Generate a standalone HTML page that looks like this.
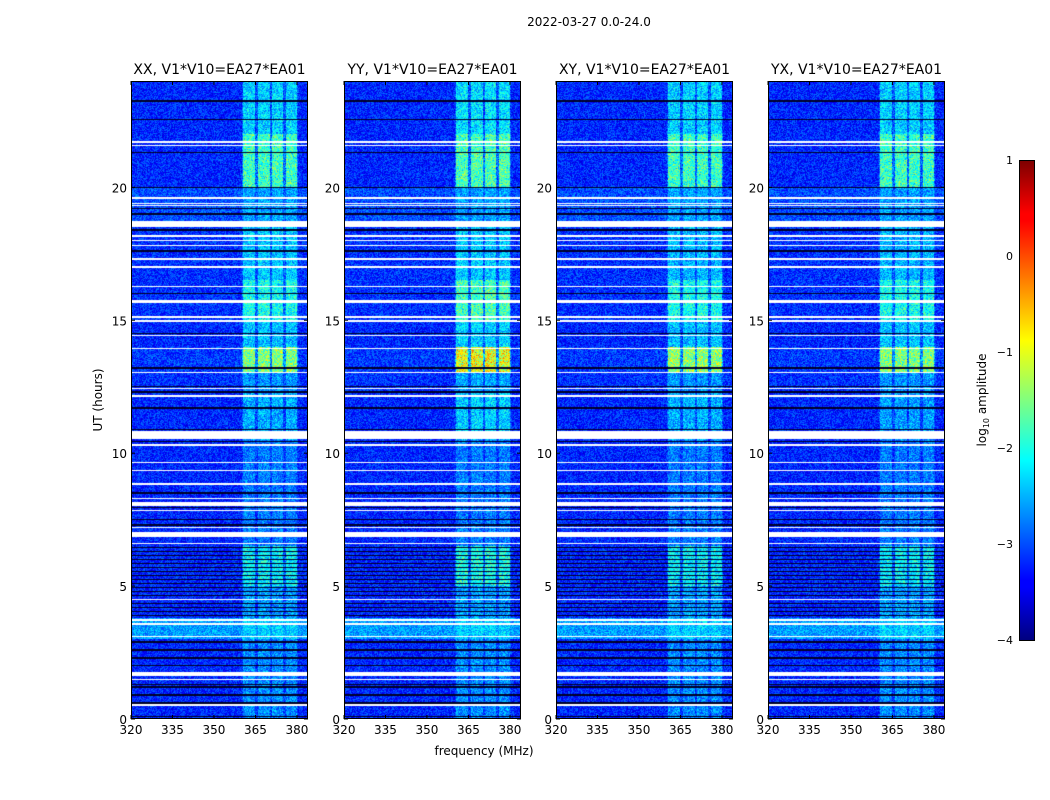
<!DOCTYPE html>
<html><head><meta charset="utf-8">
<style>
body{margin:0;background:#fff;width:1050px;height:800px;overflow:hidden;font-family:"DejaVu Sans","Liberation Sans",sans-serif;}
#root{position:relative;width:1050px;height:800px;}
</style></head><body>
<div id="root">
<svg id="svg" width="1050" height="800" style="position:absolute;left:0;top:0"></svg>
</div>
<script>
// ---- data ----
const panelTitles = ["XX, V1*V10=EA27*EA01","YY, V1*V10=EA27*EA01","XY, V1*V10=EA27*EA01","YX, V1*V10=EA27*EA01"];
const yTicks = [0,5,10,15,20];
const xTicks = [320,335,350,365,380];
const cbTicks = [1,0,-1,-2,-3,-4];
const segEdges = [0,3,3.8,5,6.5,10.5,12.3,13,14,15,16.5,18.5,20,22,24];
const boostXX = [0.6,0.3,0.7,1.2,0.5,0.8,0.6,1.9,0.9,1.3,0.9,0.5,1.6,1.0];
const boostYY = [0.6,0.3,0.7,1.4,0.5,1.0,0.7,2.5,1.0,1.6,0.9,0.5,1.7,1.1];
const boostXY = [0.6,0.3,0.7,1.2,0.5,0.8,0.6,2.0,0.9,1.3,0.8,0.5,1.6,1.0];
const boostYX = [0.6,0.3,0.7,1.2,0.5,0.7,0.6,1.9,0.9,1.3,0.8,0.5,1.6,1.0];
const boosts = [boostXX,boostYY,boostXY,boostYX];
const baseLevel = [-3.2,-2.6,-3.2,-3.2,-3.2,-3.2,-3.15,-3.1,-3.2,-3.15,-3.15,-3.0,-3.2,-3.2];
const bands = [[360.5,365],[366,370.3],[371,375],[376,380]];
const whites = [[21.68,21.76],[21.55,21.6],[19.55,19.62],[19.38,19.42],[19.28,19.32],[18.5,18.75],[18.15,18.2],[17.98,18.03],[17.78,17.82],[17.28,17.33],[16.95,17.05],[16.25,16.3],[15.65,15.75],[15.1,15.15],[14.95,15.0],[14.4,14.44],[13.92,13.97],[13.03,13.07],[12.42,12.47],[12.12,12.17],[10.55,10.85],[10.28,10.33],[9.64,9.68],[9.34,9.38],[8.81,8.86],[8.28,8.32],[8.02,8.15],[7.83,7.87],[7.18,7.22],[6.85,7.02],[6.58,6.62],[4.48,4.52],[3.7,3.78],[3.55,3.6],[3.08,3.13],[1.6,1.78],[1.45,1.5],[0.5,0.55]];
const blacks = [23.25,22.55,21.3,20.0,19.2,19.0,18.4,17.6,16.0,14.5,13.2,12.5,12.3,11.7,10.9,10.45,8.5,7.95,7.5,7.3,6.45,6.3,6.15,6.0,5.85,5.7,5.55,5.4,5.25,5.1,4.95,4.8,4.65,4.35,4.2,4.05,3.9,2.9,2.6,2.3,2.0,1.3,1.2,0.9,0.6,0.1];

const lefts=[131,344,556,768], W=177, TOP=81, H=638, fMin=320, fMax=384, tMax=24;
const xs=(f,l)=>l+(f-fMin)/(fMax-fMin)*W;
const ys=h=>TOP+H-(h/tMax)*H;
const svg=document.getElementById('svg'), root=document.getElementById('root');
const NS="http://www.w3.org/2000/svg";
const FONT='DejaVu Sans, Liberation Sans, sans-serif';
function jet(v){let t=(v+4)/5;t=Math.max(0,Math.min(1,t));
 const r=Math.max(0,Math.min(1,1.5-Math.abs(4*t-3))),g=Math.max(0,Math.min(1,1.5-Math.abs(4*t-2))),b=Math.max(0,Math.min(1,1.5-Math.abs(4*t-1)));
 return [r*255,g*255,b*255];}
function hash(a,b,c){let h=(a*374761393+b*668265263+c*2147483647)|0;h=(h^(h>>>13))*1274126177|0;h^=h>>>16;return ((h>>>0)%10000)/10000;}
function text(x,y,s,anchor,size,name){const t=document.createElementNS(NS,'text');t.setAttribute('x',x);t.setAttribute('y',y);t.setAttribute('text-anchor',anchor||'middle');t.setAttribute('font-size',size||12);t.setAttribute('font-family',FONT);t.textContent=s;
 
 
 svg.appendChild(t);return t;}
function line(x1,y1,x2,y2,name){const l=document.createElementNS(NS,'line');l.setAttribute('x1',x1);l.setAttribute('y1',y1);l.setAttribute('x2',x2);l.setAttribute('y2',y2);l.setAttribute('stroke','#000');l.setAttribute('stroke-width',1);
 
 
 svg.appendChild(l);}

text(589,26,"2022-03-27 0.0-24.0",'middle',12,'figure-title');
for(let p=0;p<4;p++){
 const L=lefts[p];
 const cv=document.createElement('canvas');cv.width=W;cv.height=H;
 cv.style.cssText=`position:absolute;left:${L}px;top:${TOP}px;`;
 
 
 root.insertBefore(cv,svg);
 const ctx=cv.getContext('2d'),img=ctx.createImageData(W,H),d=img.data;
 for(let r=0;r<H;r++){
  const h=(H-r-0.5)/H*tMax; let s=0;while(s<segEdges.length-2&&h>=segEdges[s+1])s++;
  let white=whites.some(w=>h>=w[0]&&h<=w[1]);
  let black=blacks.some(b=>Math.abs(h-b)<0.025);
  for(let c=0;c<W;c++){
   const f=fMin+(c+0.5)/W*(fMax-fMin);const i=(r*W+c)*4;
   let col;
   if(white)col=[255,255,255];else if(black)col=[0,0,40];
   else{let v=baseLevel[s]+(hash(r,c,p)-0.5)*0.8;
    if(bands.some(b=>f>=b[0]&&f<=b[1]))v+=boosts[p][s]*(0.6+0.5*hash(c,r,p+7));
    else if(f>=360&&f<=380.5)v+=0.45*boosts[p][s]*hash(c,r,p+3);
    col=jet(v);}
   d[i]=col[0];d[i+1]=col[1];d[i+2]=col[2];d[i+3]=255;}
 }
 ctx.putImageData(img,0,0);
 const fr=document.createElementNS(NS,'rect');fr.setAttribute('x',L+0.5);fr.setAttribute('y',TOP+0.5);fr.setAttribute('width',W-1);fr.setAttribute('height',H-1);fr.setAttribute('fill','none');fr.setAttribute('stroke','#000');
 
 
 svg.appendChild(fr);
 text(L+W/2,74,panelTitles[p],'middle',14,'panel-title');
 yTicks.forEach(v=>{const y=ys(v);line(L,y,L+4,y,'y-tick');line(L+W-4,y,L+W,y,'y-tick');text(L-4,y+5,String(v),'end',12,'y-tick-label');});
 xTicks.forEach(v=>{const x=xs(v,L);line(x,TOP+H,x,TOP+H-4,'x-tick');line(x,TOP,x,TOP+4,'x-tick');text(x,TOP+H+15,String(v),'middle',12,'x-tick-label');});
}
const yl=text(0,0,"UT (hours)",'middle',12,'y-axis-title');yl.setAttribute('transform','translate(102,400) rotate(-90)');
text(484,755,"frequency (MHz)",'middle',12,'x-axis-title');
const cb=document.createElement('div');
cb.style.cssText='position:absolute;left:1019px;top:160px;width:16px;height:481px;border:1px solid #000;box-sizing:border-box;background:linear-gradient(to top,#00007f 0%,#0000ff 11%,#0000ff 12.5%,#00ffff 37.5%,#ffff00 62.5%,#ff0000 87.5%,#ff0000 89%,#7f0000 100%);';


root.appendChild(cb);
cbTicks.forEach(v=>{const y=160+(1-v)/5*480;text(1013,y+4,v<0?'\u2212'+(-v):String(v),'end',11,'colorbar-tick-label');});
const cl=text(0,0,"",'middle',12,'colorbar-title');cl.setAttribute('transform','translate(986,400) rotate(-90)');
cl.innerHTML='log<tspan font-size="8" dy="3">10</tspan><tspan dy="-3"> amplitude</tspan>';
</script>
</body></html>
